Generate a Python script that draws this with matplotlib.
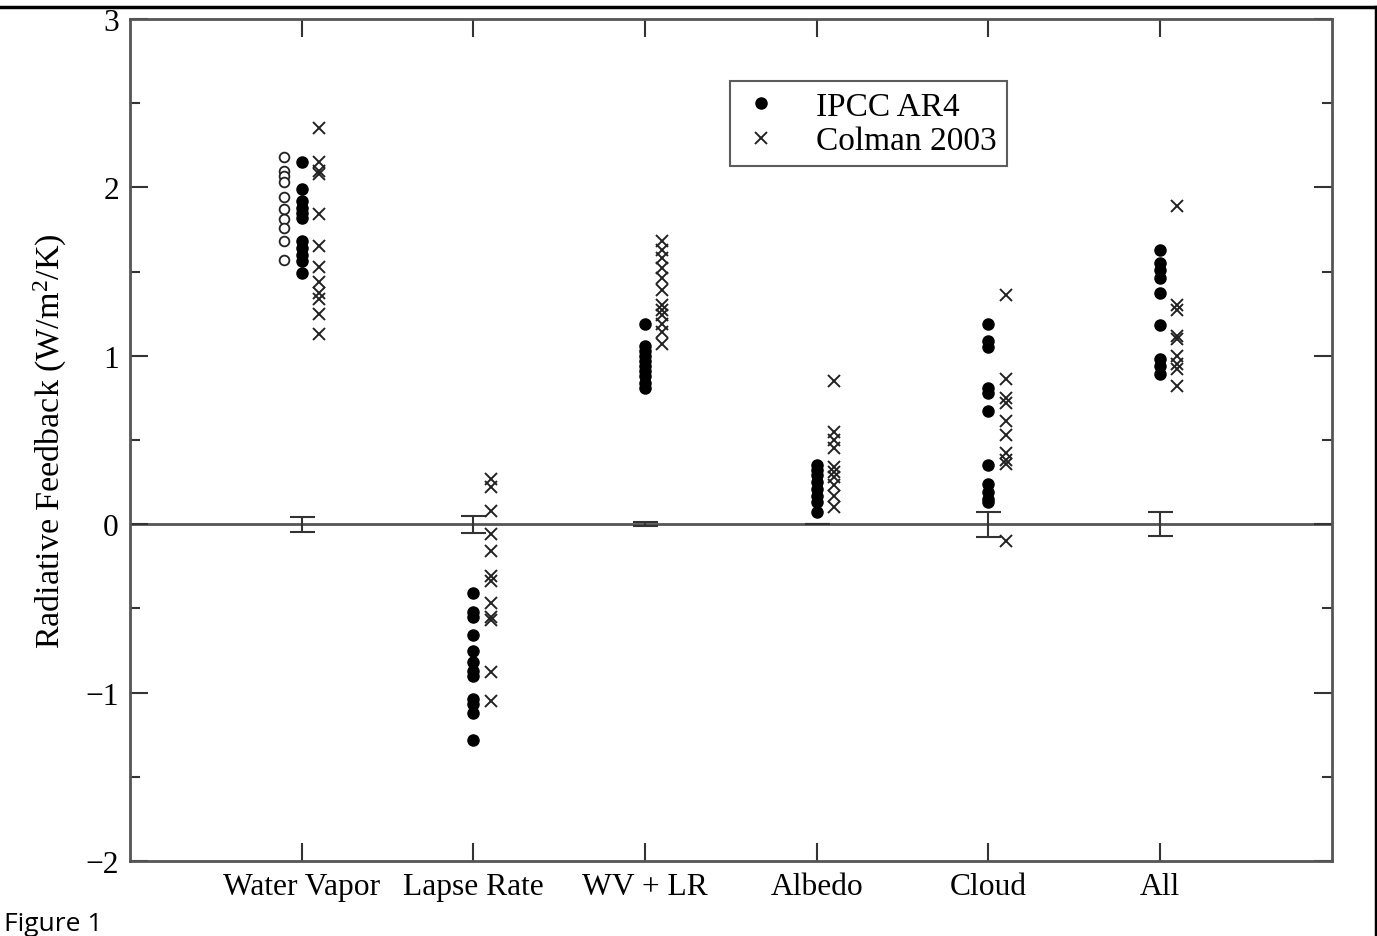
import numpy as np
import matplotlib
matplotlib.use("Agg")
import matplotlib.pyplot as plt
from matplotlib.lines import Line2D

plt.rcParams['font.family'] = ['Liberation Serif', 'DejaVu Serif']
plt.rcParams['mathtext.fontset'] = 'custom'
plt.rcParams['mathtext.rm'] = 'Liberation Serif'
plt.rcParams['mathtext.it'] = 'Liberation Serif:italic'

categories = ["Water Vapor", "Lapse Rate", "WV + LR", "Albedo", "Cloud", "All"]

ipcc_ar4 = [
    [2.15, 1.99, 1.92, 1.88, 1.85, 1.82, 1.68, 1.64, 1.60, 1.56, 1.49],
    [-0.41, -0.52, -0.55, -0.66, -0.75, -0.82, -0.87, -0.90, -1.04, -1.07, -1.12, -1.28],
    [1.19, 1.06, 1.03, 1.00, 0.97, 0.94, 0.91, 0.88, 0.84, 0.81],
    [0.35, 0.32, 0.29, 0.25, 0.21, 0.17, 0.13, 0.07],
    [1.19, 1.09, 1.05, 0.81, 0.78, 0.67, 0.35, 0.24, 0.19, 0.15, 0.13],
    [1.63, 1.55, 1.51, 1.46, 1.37, 1.18, 0.98, 0.94, 0.89],
]

colman_2003 = [
    [2.35, 2.15, 2.10, 2.08, 1.84, 1.65, 1.53, 1.44, 1.37, 1.34, 1.25, 1.13],
    [0.27, 0.22, 0.08, -0.06, -0.16, -0.31, -0.34, -0.47, -0.55, -0.57, -0.88, -1.05],
    [1.68, 1.63, 1.58, 1.52, 1.46, 1.39, 1.30, 1.27, 1.24, 1.19, 1.14, 1.07],
    [0.85, 0.55, 0.50, 0.45, 0.34, 0.31, 0.28, 0.23, 0.17, 0.10],
    [1.36, 0.86, 0.75, 0.72, 0.61, 0.53, 0.42, 0.38, 0.36, -0.10],
    [1.89, 1.30, 1.27, 1.12, 1.10, 1.00, 0.95, 0.92, 0.82],
]

# open circles (water vapor only)
wv_open = [2.18, 2.10, 2.07, 2.03, 1.94, 1.87, 1.81, 1.76, 1.68, 1.57]

# error bars centred on zero
err_center = [0, 0, 0, 0, 0, 0]
err_size = [0.045, 0.05, 0.012, 0.0, 0.075, 0.07]

fig = plt.figure(figsize=(13.77, 9.37), dpi=100)
ax = fig.add_axes([0.0944, 0.080, 0.8727, 0.8987])

pos = np.arange(1, len(categories) + 1)
dx = 0.1

ax.axhline(0, color='#555555', lw=2, zorder=1)

for i, p in enumerate(pos):
    ax.plot([p] * len(ipcc_ar4[i]), ipcc_ar4[i], 'o', ms=8, color='black',
            mec='black', ls='none', zorder=3, label='IPCC AR4' if i == 0 else None)
    ax.plot([p + dx] * len(colman_2003[i]), colman_2003[i], 'x', ms=8.5,
            mew=1.4, color='#222222', ls='none', zorder=3,
            label='Colman 2003' if i == 0 else None)

ax.plot([pos[0] - dx] * len(wv_open), wv_open, 'o', ms=7, mfc='white',
        mec='#222222', mew=1.3, ls='none', zorder=3)

ax.errorbar(pos, err_center, yerr=err_size, fmt='none', ecolor='#333333',
            elinewidth=1.5, capsize=9, capthick=1.5, zorder=2)

ax.set_xlim(0, 7)
ax.set_ylim(-2, 3)
ax.set_xticks(pos)
ax.set_xticklabels(categories, fontsize=22.7)
ax.set_yticks([-2, -1, 0, 1, 2, 3])
ax.set_yticklabels(['\u22122', '\u22121', '0', '1', '2', '3'], fontsize=22.7)
ax.set_yticks(np.arange(-1.5, 3, 1.0), minor=True)
ax.tick_params(axis='both', which='major', direction='in', length=13, width=1.5,
               top=True, right=True, color='#333333', pad=8)
ax.tick_params(axis='y', which='minor', direction='in', length=7, width=1.5,
               right=True, color='#333333')
ax.set_ylabel('Radiative Feedback (W/m$^2$/K)', fontsize=24.5, labelpad=12)

for s in ax.spines.values():
    s.set_color('#555555')
    s.set_linewidth(2)

leg = ax.legend(loc='upper left', bbox_to_anchor=(0.499, 0.926), borderaxespad=0,
                fontsize=24, frameon=True, fancybox=False, handletextpad=1.0,
                handlelength=1.3, borderpad=0.3, labelspacing=0.12)
leg.get_frame().set_edgecolor('#333333')
leg.get_frame().set_linewidth(1.5)

fig.text(0.003, 0.0005, 'Figure 1', fontsize=19, family=['Open Sans', 'DejaVu Sans'],
         ha='left', va='bottom')

fig.add_artist(Line2D([0, 0.9993], [0.9915, 0.9915], color='black', lw=2.5,
                      transform=fig.transFigure))
fig.add_artist(Line2D([0.9993, 0.9993], [0, 0.9915], color='black', lw=2.5,
                      transform=fig.transFigure))

fig.savefig('out.png', dpi=100)
